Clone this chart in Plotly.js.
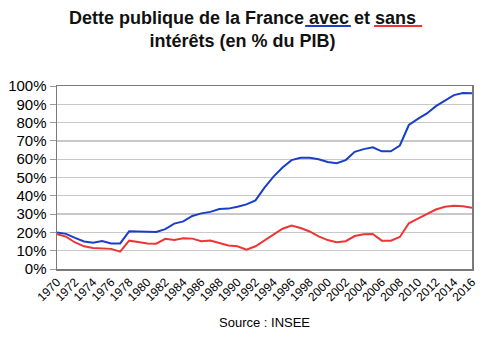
<!DOCTYPE html>
<html>
<head>
<meta charset="utf-8">
<script src="https://cdn.plot.ly/plotly-3.0.1.min.js"></script>
<style>html,body{margin:0;padding:0;background:#fff;}#chart{width:485px;height:339px;}</style>
</head>
<body>
<div id="chart"></div>
<script>
const years = [1970,1971,1972,1973,1974,1975,1976,1977,1978,1979,1980,1981,1982,1983,1984,1985,1986,1987,1988,1989,1990,1991,1992,1993,1994,1995,1996,1997,1998,1999,2000,2001,2002,2003,2004,2005,2006,2007,2008,2009,2010,2011,2012,2013,2014,2015,2016];
const avecInterets = [20.0,19.2,17.0,15.0,14.4,15.3,14.0,14.0,20.6,20.6,20.4,20.2,21.8,24.8,26.0,29.0,30.4,31.2,32.8,33.0,34.0,35.3,37.5,44.5,50.5,55.5,59.5,60.8,60.8,60.0,58.5,57.8,59.5,64.0,65.5,66.5,64.3,64.3,67.5,78.7,82.0,85.0,89.0,92.0,95.0,96.2,96.0];
const sansInterets = [19.0,17.7,14.5,12.4,11.5,11.3,11.0,9.5,15.5,14.8,14.0,13.8,16.5,15.9,16.8,16.6,15.2,15.6,14.3,12.8,12.4,10.6,12.4,15.5,19.0,22.0,23.8,22.4,20.5,17.8,15.8,14.6,15.2,18.0,19.0,19.1,15.5,15.5,17.5,25.0,27.5,30.0,32.5,34.0,34.5,34.3,33.5];
const xTickVals = [1970,1972,1974,1976,1978,1980,1982,1984,1986,1988,1990,1992,1994,1996,1998,2000,2002,2004,2006,2008,2010,2012,2014,2016];
const yTickVals = [0,10,20,30,40,50,60,70,80,90,100];
const titleText = "<b>Dette publique de la France avec et sans</b><br><b>intérêts (en % du PIB)</b>";
const sourceText = "Source : INSEE";

const traces = [
  {x: years, y: avecInterets, type: 'scatter', mode: 'lines', name: 'avec intérêts',
   line: {color: '#1a3fc4', width: 2}},
  {x: years, y: sansInterets, type: 'scatter', mode: 'lines', name: 'sans intérêts',
   line: {color: '#ee3535', width: 2}}
];

const layout = {
  width: 485, height: 339,
  margin: {l: 57, r: 13, t: 86, b: 70},
  paper_bgcolor: '#ffffff', plot_bgcolor: '#ffffff',
  showlegend: false,
  font: {family: 'Liberation Sans, Arial, sans-serif', color: '#000'},
  xaxis: {range: [1970, 2016], tickvals: xTickVals, ticktext: xTickVals.map(String), tickangle: -45,
          tickfont: {size: 12}, showgrid: false, zeroline: false, showline: true, mirror: true,
          linecolor: '#7a7a7a', linewidth: 1.5, ticks: ''},
  yaxis: {range: [0, 100], tickvals: yTickVals, ticktext: yTickVals.map(v => v + '%'),
          tickfont: {size: 15}, showgrid: true, gridcolor: '#c8c8c8', gridwidth: 1.3, zeroline: false,
          showline: true, mirror: true, linecolor: '#7a7a7a', linewidth: 1.5,
          ticks: 'outside', ticklen: 6, tickcolor: '#9a9a9a'},
  shapes: [
    {type: 'line', xref: 'paper', yref: 'paper', x0: 0.598, x1: 0.708, y0: 1.328, y1: 1.328,
     line: {color: '#1a3fc4', width: 2}},
    {type: 'line', xref: 'paper', yref: 'paper', x0: 0.764, x1: 0.880, y0: 1.328, y1: 1.328,
     line: {color: '#ee3535', width: 2}}
  ],
  annotations: [
    {text: titleText, xref: 'paper', yref: 'paper', x: 0.447, y: 1.311, xanchor: 'center', yanchor: 'middle',
     align: 'center', showarrow: false, font: {size: 18, color: '#111'}},
    {text: sourceText, xref: 'paper', yref: 'paper', x: 0.5, y: -0.295, xanchor: 'center', yanchor: 'middle',
     showarrow: false, font: {size: 13, color: '#000'}}
  ]
};

Plotly.newPlot('chart', traces, layout, {displayModeBar: false, staticPlot: true});
</script>
</body>
</html>
